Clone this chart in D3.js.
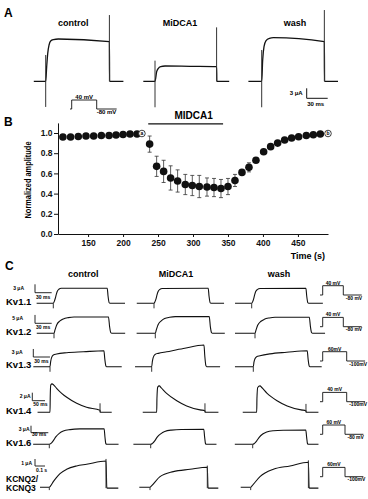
<!DOCTYPE html>
<html><head><meta charset="utf-8">
<script src="https://cdn.jsdelivr.net/npm/d3@7/dist/d3.min.js"></script>
<style>
body{margin:0;background:#fff;}
svg{display:block;font-family:"Liberation Sans",Arial,Helvetica,sans-serif;}
</style></head><body>
<svg id="fig" width="368" height="499"></svg>
<script>
// ================= DATA =================
// ---- Panel B: normalized amplitude vs time ----
const bTimes  = [114,125,136,147,158,169,180,190,200,210,220,
                 238,248,258,268,278,289,299,309,320,330,340,350,360,370,380,390,401,411,421,431,441,451,462,472,482];
const bValues = [0.96,0.96,0.965,0.97,0.97,0.975,0.975,0.98,0.985,0.99,0.99,
                 0.89,0.67,0.62,0.555,0.525,0.49,0.48,0.47,0.465,0.46,0.45,0.47,0.53,0.61,0.66,0.73,0.815,0.865,0.90,0.93,0.95,0.963,0.975,0.983,0.99];
const bErrors = [0,0,0,0,0,0,0,0,0,0,0,
                 0.08,0.10,0.11,0.12,0.11,0.10,0.10,0.11,0.09,0.09,0.09,0.08,0.06,0.02,0.045,0.01,0,0,0,0,0,0,0,0,0];
const bOpenTimes  = [227, 493];
const bOpenValues = [0.995, 0.995];
const bOpenLabels = ["a", "b"];
const bXTicks = [150,200,250,300,350,400,450];
const bYTicks = [0.0,0.2,0.4,0.6,0.8,1.0];
const bDrugBar = [236, 343];
const bDrugLabel = "MIDCA1";

// ---- Panel A: Kv1.1 currents (t in ms from step onset, I in uA) ----
const conditions = ["control", "MiDCA1", "wash"];
const aTraces = [
  [[-17,0],[0,0],[1.4,4.4],[2.9,8.4],[4.8,10.9],[7.1,12.1],[11,12.5],[18,12.7],[91,11.9],[91.3,0],[111,0]],
  [[-16.7,0],[0,0],[2.4,2.9],[4.8,3.9],[8.1,4.4],[14.3,4.6],[50,4.5],[88,4.4],[88.3,0],[106,0]],
  [[-19,0],[0,0],[1.4,6.4],[3.3,10.4],[6.2,12.2],[11,12.9],[16.7,13.1],[89.5,11.9],[89.8,0],[109,0]]
];
const aSpikes = [
  [[0,7.9,-7.7],[91,19.9,0]],
  [[0,6.2,-7.8],[88,16.2,0]],
  [[0,9.4,-7.8],[89.5,21.4,0]]
];
const aScaleUA = 3, aScaleMs = 30;
const aProtoHold = -80, aProtoTest = 40;

// ---- Panel C: channel panel ----
const channels = ["Kv1.1","Kv1.2","Kv1.3","Kv1.4","Kv1.6","KCNQ2/|KCNQ3"];
const cTraces = [
  [ // Kv1.1
    [[-30,0],[0,0],[1.8,0.7],[3.6,1.8],[5.4,3.2],[7.2,4.3],[10,5.0],[14.5,5.35],[97,5.4],[98.5,2.5],[100.5,0.2],[102,0],[129,0]],
    [[-31,0],[0,0],[1.8,0.6],[3.6,1.6],[5.4,3.0],[7.2,4.1],[10,4.9],[15,5.3],[97.5,5.4],[99,2.5],[101,0.2],[102.5,0],[126,0]],
    [[-30,0],[0,0],[1.8,0.6],[3.6,1.7],[5.4,3.1],[7.2,4.2],[10,4.9],[15,5.3],[97.5,5.35],[99,2.5],[101,0.2],[102.5,0],[128,0]]
  ],
  [ // Kv1.2
    [[-31,0],[0,0],[1.8,2.0],[4.8,5.0],[10.8,7.4],[16.8,8.6],[25.7,9.4],[36,9.8],[98,9.8],[100,4],[102,0.5],[104,0],[128,0]],
    [[-33.6,0],[0,0],[1.8,2.0],[4.8,5.0],[10.8,7.5],[16.8,8.8],[25.7,9.6],[36,10],[97,10],[99,4],[101,0.5],[103,0],[125,0]],
    [[-36,0],[0,0],[1.8,1.9],[4.8,4.8],[10.8,7.2],[16.8,8.4],[25.7,9.2],[36,9.6],[97.7,9.6],[99.7,4],[101.7,0.5],[103.7,0],[126,0]]
  ],
  [ // Kv1.3
    [[-30,0],[0,0],[1.2,1.9],[3,3.5],[6,4.4],[12,4.75],[30,5.25],[60,5.6],[97,6.0],[98.5,3],[100.5,0.3],[102,0],[129,0]],
    [[-30,0],[0,0],[1.2,2.0],[3,3.6],[6,4.6],[12,5.0],[27,5.6],[57,6.8],[94,8.1],[95.5,4],[97.5,0.4],[99,0],[123,0]],
    [[-33,0],[0,0],[1.2,1.7],[3,3.0],[6,3.75],[12,4.1],[30,4.8],[60,5.4],[97,6.0],[98.5,3],[100.5,0.3],[102,0],[123,0]]
  ],
  [ // Kv1.4
    [[-49,0],[0,0],[1,4],[3,6.8],[8,7.1],[15,6.8],[26,6.0],[46,4.75],[66,3.75],[105,2.25],[144,1.25],[197,0.5],[198,0],[243,0]],
    [[-55,0],[0,0],[1,3.5],[4,6.3],[10,6.6],[18,6.1],[39,4.75],[79,2.9],[118,1.6],[171,0.6],[190,0.4],[191,0],[243,0]],
    [[-55,0],[0,0],[1,3.5],[4,6.2],[13,6.6],[20,6.2],[40,4.8],[80,2.9],[120,1.6],[175,0.6],[194,0.4],[195,0],[243,0]]
  ],
  [ // Kv1.6
    [[-28,0],[0,0],[3,0.4],[7,1.6],[11.6,3.3],[17.3,4.7],[24.3,5.7],[36,6.3],[53,6.6],[95,6.7],[96.5,3],[98,0.3],[99.5,0],[120,0]],
    [[-30,0],[0,0],[3,0.4],[7,1.5],[11.6,3.2],[17.3,4.5],[24.3,5.5],[36,6.1],[53,6.35],[92,6.4],[93.5,3],[95,0.3],[96.5,0],[114,0]],
    [[-31,0],[0,0],[3,0.4],[7,1.5],[11.6,3.1],[17.3,4.4],[24.3,5.3],[36,5.8],[53,6.0],[92,6.1],[93.5,3],[95,0.3],[96.5,0],[114,0]]
  ],
  [ // KCNQ2/KCNQ3
    [[-93,0],[0,0],[13,0.2],[40,0.81],[73,1.43],[107,1.95],[173,2.57],[273,3.05],[373,3.29],[567,3.76],[575,0],[580,-0.12],[690,-0.12]],
    [[-107,0],[0,0],[15,0.2],[100,1.52],[233,2.24],[400,2.57],[573,2.86],[580,0],[585,-0.12],[683,-0.12]],
    [[-100,0],[0,0],[13,0.2],[93,1.52],[227,2.57],[393,3.05],[577,3.57],[584,0],[589,-0.12],[677,-0.12]]
  ]
];
const cSpikes = [
  [[[0,0,-1.8]],[[0,0,-1.8]],[[0,0,-1.8]]],
  [[[0,0,-3]],[[0,0,-3]],[[0,0,-3]]],
  [[[0,0,-1.9]],[[0,0,-1.9]],[[0,0,-1.9]]],
  [[[197,2.25,0]],[[190,2.25,0]],[[194,2.1,0]]],
  [[[0,0,-1.7]],[[0,0,-1.7]],[[0,0,-1.7]]],
  [[[0,0,-0.4],[567,4.05,-0.12]],[[0,0,-0.4],[573,3.1,-0.12]],[[0,0,-0.4],[577,3.85,-0.12]]]
];
const cScaleUA = [3,5,3,2,3,1];
const cScaleMs = [30,30,30,50,30,100];
const cScaleUALabel = ["3 μA","5 μA","3 μA","2 μA","3 μA","1 μA"];
const cScaleMsLabel = ["30 ms","30 ms","30 ms","50 ms","30 ms","0.1 s"];
const cProtoTestLabel = ["40 mV","40 mV","60mV","40 mV","60 mV","60mV"];
const cProtoHoldLabel = ["-80 mV","-80 mV","-100mV","-100mV","-80 mV","-100mV"];
const cProtoHold = [-80,-80,-100,-100,-80,-100];
const cProtoTest = [40,40,60,40,60,60];

// ================= LAYOUT =================
const svg = d3.select("#fig");
const ink = "#111";

function traceScales(onsetX, baseY, pxMs, pxUA) {
  return {
    x: d3.scaleLinear().domain([0, 1]).range([onsetX, onsetX + pxMs]),
    y: d3.scaleLinear().domain([0, 1]).range([baseY, baseY - pxUA])
  };
}
function drawTrace(g, pts, spikes, s, w) {
  g.append("path").datum(pts)
    .attr("d", d3.line().x(d => s.x(d[0])).y(d => s.y(d[1])).curve(d3.curveMonotoneX))
    .attr("fill", "none").attr("stroke", ink).attr("stroke-width", w).attr("stroke-linejoin", "round");
  g.selectAll(null).data(spikes).join("line")
    .attr("x1", d => s.x(d[0])).attr("x2", d => s.x(d[0]))
    .attr("y1", d => s.y(d[1])).attr("y2", d => s.y(d[2]))
    .attr("stroke", "#333").attr("stroke-width", 1);
}
function drawProtocol(g, x0, holdY, stepH, pre, step, post, hold, test, testLbl, holdLbl, fs, holdDx, holdDy) {
  const vy = d3.scaleLinear().domain([hold, test]).range([holdY, holdY - stepH]);
  const pts = [[-pre, hold], [0, hold], [0, test], [step, test], [step, hold], [step + post, hold]];
  const tx = d3.scaleLinear().domain([-pre, step + post]).range([x0, x0 + pre + step + post]);
  g.append("path").datum(pts)
    .attr("d", d3.line().x(d => tx(d[0])).y(d => vy(d[1])))
    .attr("fill", "none").attr("stroke", ink).attr("stroke-width", 0.9);
  g.append("text").attr("x", tx(step / 2)).attr("y", vy(test) - 1.2)
    .attr("text-anchor", "middle").attr("font-size", fs).attr("font-weight", "bold").text(testLbl);
  g.append("text").attr("x", tx(step) + holdDx).attr("y", vy(hold) + holdDy)
    .attr("font-size", fs).attr("font-weight", "bold").text(holdLbl);
}

// Panel letters
svg.selectAll("text.letter").data([["A",4,17],["B",4,126],["C",5,270]]).join("text")
  .attr("class","letter").attr("x", d => d[1]).attr("y", d => d[2])
  .attr("font-size", 12).attr("font-weight", "bold").text(d => d[0]);

// ---------- Panel A ----------
const gA = svg.append("g");
const aOnsetX = [45.7, 155, 261.7], aBaseY = 81.3, aPxMs = 0.7, aPxUA = 3.33;
const aLabelX = [73.3, 180, 295];
conditions.forEach((c, i) => {
  gA.append("text").attr("x", aLabelX[i]).attr("y", 25.7).attr("text-anchor", "middle")
    .attr("font-size", 9).attr("font-weight", "bold").text(c);
  drawTrace(gA, aTraces[i], aSpikes[i], traceScales(aOnsetX[i], aBaseY, aPxMs, aPxUA), 1.3);
});
// scale bar A
{
  const sx = 306.7, sy = 98.3;
  gA.append("path").attr("d", `M${sx},${sy - aScaleUA * aPxUA}V${sy}H${sx + aScaleMs * aPxMs}`)
    .attr("fill", "none").attr("stroke", ink).attr("stroke-width", 1);
  gA.append("text").attr("x", sx - 4).attr("y", sy - 3).attr("text-anchor", "end")
    .attr("font-size", 6).attr("font-weight", "bold").text("3 μA");
  gA.append("text").attr("x", sx + 0.5).attr("y", sy + 7.5)
    .attr("font-size", 6).attr("font-weight", "bold").text("30 ms");
}
drawProtocol(gA, 70, 109, 9, 1.7, 25, 20, aProtoHold, aProtoTest, "40 mV", "-80 mV", 6, 0, 5);

// ---------- Panel B ----------
const gB = svg.append("g");
const xB = d3.scaleLinear().domain([107, 493]).range([58, 328]);
const yB = d3.scaleLinear().domain([0, 1.1]).range([234, 122.9]);
gB.append("g").attr("transform", "translate(0,234)")
  .call(d3.axisBottom(xB).tickValues(bXTicks).tickSize(3).tickSizeOuter(0).tickPadding(3))
  .call(g => { g.selectAll("text").attr("font-size", 8.5).attr("font-weight", "bold").attr("fill", ink).attr("font-family", null);
               g.selectAll("path,line").attr("stroke", ink); });
gB.append("g").attr("transform", "translate(58,0)")
  .call(d3.axisLeft(yB).tickValues(bYTicks).tickFormat(d3.format(".1f")).tickSize(4).tickSizeOuter(0).tickPadding(1.5))
  .call(g => { g.selectAll("text").attr("font-size", 8.5).attr("font-weight", "bold").attr("fill", ink).attr("font-family", null);
               g.selectAll("path,line").attr("stroke", ink); });
gB.append("text").attr("transform", "translate(31,180) rotate(-90)").attr("text-anchor", "middle")
  .attr("font-size", 9).attr("font-weight", "bold").attr("textLength", 77).attr("lengthAdjust", "spacingAndGlyphs").text("Normalized amplitude");
gB.append("text").attr("x", 325).attr("y", 259).attr("text-anchor", "end")
  .attr("font-size", 9).attr("font-weight", "bold").text("Time (s)");
// drug bar
gB.append("line").attr("x1", xB(bDrugBar[0])).attr("x2", xB(bDrugBar[1]))
  .attr("y1", yB(1.09)).attr("y2", yB(1.09)).attr("stroke", ink).attr("stroke-width", 1.2);
gB.append("text").attr("x", (xB(bDrugBar[0]) + xB(bDrugBar[1])) / 2 + 8).attr("y", yB(1.09) - 4.5)
  .attr("text-anchor", "middle").attr("font-size", 10).attr("font-weight", "bold").text(bDrugLabel);
// error bars
const bData = bTimes.map((t, i) => ({t, v: bValues[i], e: bErrors[i]})).filter(d => d.e > 0);
const eg = gB.append("g").attr("stroke", "#333").attr("stroke-width", 0.8);
eg.selectAll("line.v").data(bData).join("line").attr("class","v")
  .attr("x1", d => xB(d.t)).attr("x2", d => xB(d.t)).attr("y1", d => yB(d.v + d.e)).attr("y2", d => yB(d.v - d.e));
eg.selectAll("line.cu").data(bData).join("line").attr("class","cu")
  .attr("x1", d => xB(d.t) - 2).attr("x2", d => xB(d.t) + 2).attr("y1", d => yB(d.v + d.e)).attr("y2", d => yB(d.v + d.e));
eg.selectAll("line.cl").data(bData).join("line").attr("class","cl")
  .attr("x1", d => xB(d.t) - 2).attr("x2", d => xB(d.t) + 2).attr("y1", d => yB(d.v - d.e)).attr("y2", d => yB(d.v - d.e));
// points
gB.selectAll("circle.pt").data(bTimes).join("circle").attr("class","pt")
  .attr("cx", d => xB(d)).attr("cy", (d, i) => yB(bValues[i])).attr("r", 3.8).attr("fill", ink);
gB.selectAll("circle.open").data(bOpenTimes).join("circle").attr("class","open")
  .attr("cx", d => xB(d)).attr("cy", (d, i) => yB(bOpenValues[i])).attr("r", 3.3)
  .attr("fill", "#fff").attr("stroke", ink).attr("stroke-width", 0.8);
gB.selectAll("text.open").data(bOpenTimes).join("text").attr("class","open")
  .attr("x", d => xB(d)).attr("y", (d, i) => yB(bOpenValues[i]) + 1.7).attr("text-anchor", "middle")
  .attr("font-size", 5).attr("font-weight", "bold").text((d, i) => bOpenLabels[i]);

// ---------- Panel C ----------
const gC = svg.append("g");
const cColX = [83.3, 176, 279];
conditions.forEach((c, i) => {
  gC.append("text").attr("x", cColX[i]).attr("y", 277).attr("text-anchor", "middle")
    .attr("font-size", 9).attr("font-weight", "bold").text(c);
});
const rowBase  = [303.3, 333.3, 366.7, 412.3, 444.3, 487.3];
const rowPxMs  = [0.556, 0.556, 0.556, 0.254, 0.577, 0.1];
const rowPxUA  = [2.8, 1.67, 2.67, 4, 2.33, 7];
const rowOnset = [[53.3,154,251.7],[54,155.3,255],[50,151.7,253.3],[50,156.7,256.7],[49.3,150.7,252.7],[49.3,150,250.7]];
const sbX      = [35, 35, 33.3, 32.3, 31, 35];
const sbBottom = [292.7, 323.3, 357, 400.7, 432.7, 466];
const sbLblEnd = [24, 23, 22.5, 30.5, 29.5, 32];
const sbMsDy   = [6.5, 5.5, 6, 5.5, 3.5, 6];
const protoHoldY = [295, 326.7, 361, 401.7, 434.3, 476.7];
const protoStepW = [20.6, 20.6, 24, 24, 22.3, 22.3];
channels.forEach((ch, r) => {
  const g = gC.append("g");
  const parts = ch.split("|");
  if (parts.length === 1) {
    g.append("text").attr("x", 6).attr("y", rowBase[r] + 1.5).attr("font-size", 9.5).attr("font-weight", "bold").text(ch);
  } else {
    g.append("text").attr("x", 6).attr("y", rowBase[r] - 5.5).attr("font-size", 8.5).attr("font-weight", "bold").text(parts[0]);
    g.append("text").attr("x", 6).attr("y", rowBase[r] + 4).attr("font-size", 8.5).attr("font-weight", "bold").text(parts[1]);
  }
  conditions.forEach((c, i) => {
    drawTrace(g, cTraces[r][i], cSpikes[r][i], traceScales(rowOnset[r][i], rowBase[r], rowPxMs[r], rowPxUA[r]), 1.1);
  });
  const sx = sbX[r], sy = sbBottom[r];
  const top = sy - cScaleUA[r] * rowPxUA[r], right = sx + cScaleMs[r] * rowPxMs[r];
  g.append("path").attr("d", `M${sx},${top}V${sy}H${right}`).attr("fill", "none").attr("stroke", ink).attr("stroke-width", 0.9);
  g.append("text").attr("x", sbLblEnd[r]).attr("y", top + 5.5).attr("text-anchor", "end")
    .attr("font-size", 5).attr("font-weight", "bold").text(cScaleUALabel[r]);
  g.append("text").attr("x", sx + 1).attr("y", sy + sbMsDy[r])
    .attr("font-size", 5).attr("font-weight", "bold").text(cScaleMsLabel[r]);
  drawProtocol(g, 320, protoHoldY[r], 9.3, 2.7, protoStepW[r], 18.4, cProtoHold[r], cProtoTest[r],
               cProtoTestLabel[r], cProtoHoldLabel[r], 5, 2.5, 4.5);
});
</script>
</body></html>
